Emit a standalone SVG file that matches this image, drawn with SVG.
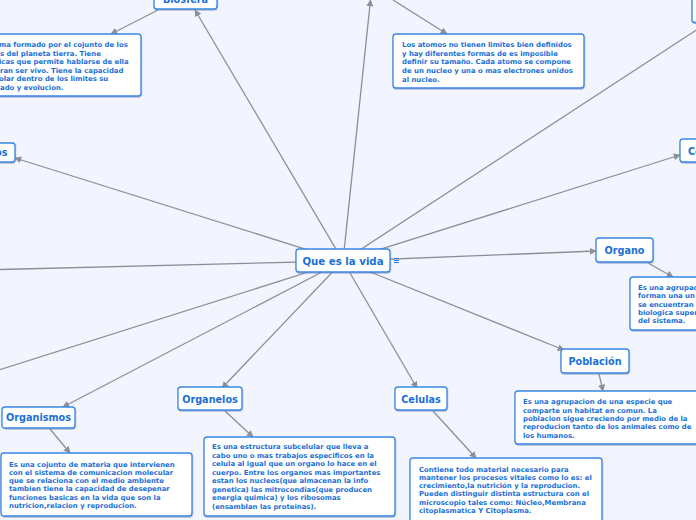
<svg xmlns="http://www.w3.org/2000/svg" width="696" height="520" viewBox="0 0 696 520">
<style>
.bg{fill:#f2f5fd}
.node rect{fill:#ffffff;stroke:#3a86e2;stroke-width:1.3;filter:url(#sh)}
.lbl{font-family:"DejaVu Sans",Verdana,sans-serif;font-weight:bold;font-size:9.7px;fill:#1b6fd6;text-anchor:middle}
.title{font-size:10.2px}
.desc{font-family:"DejaVu Sans",Verdana,sans-serif;font-weight:bold;font-size:6.9px;fill:#1b6fd6}
.conn line{stroke:#8b8f98;stroke-width:1.3;fill:none}
.arr{marker-end:url(#ah)}
</style>
<defs>
<filter id="sh" x="-10%" y="-10%" width="120%" height="130%">
<feDropShadow dx="0.4" dy="1" stdDeviation="0.6" flood-color="#6f86ad" flood-opacity="0.55"/>
</filter>
<marker id="ah" viewBox="0 0 10 10" refX="9" refY="5" markerWidth="7" markerHeight="7" markerUnits="userSpaceOnUse" orient="auto">
<path d="M0,0 L10,5 L0,10 z" fill="#8b8f98"/>
</marker>
</defs>
<rect class="bg" x="0" y="0" width="696" height="520"/>

<g id="connectors" class="conn">
<line class="arr" x1="343" y1="261" x2="195" y2="10"/>
<line class="arr" x1="343" y1="261" x2="370.5" y2="0"/>
<line x1="343" y1="261" x2="710" y2="21"/>
<line class="arr" x1="343" y1="261" x2="680" y2="155"/>
<line class="arr" x1="343" y1="261" x2="596" y2="251"/>
<line class="arr" x1="343" y1="261" x2="564" y2="350"/>
<line class="arr" x1="343" y1="261" x2="417" y2="388"/>
<line class="arr" x1="343" y1="261" x2="222" y2="388"/>
<line class="arr" x1="343" y1="261" x2="63" y2="407"/>
<line x1="343" y1="261" x2="-20" y2="376"/>
<line x1="343" y1="261" x2="-20" y2="270"/>
<line class="arr" x1="343" y1="261" x2="15" y2="158"/>
<line class="arr" x1="158" y1="10" x2="111" y2="34"/>
<line class="arr" x1="393" y1="0" x2="447" y2="34"/>
<line class="arr" x1="648" y1="263" x2="673" y2="277"/>
<line class="arr" x1="599" y1="374" x2="603" y2="391"/>
<line class="arr" x1="433" y1="411" x2="476" y2="458"/>
<line class="arr" x1="225" y1="411" x2="253" y2="437"/>
<line class="arr" x1="50" y1="429" x2="70" y2="453"/>
</g>

<g id="n-center" class="node">
<rect x="296" y="249" width="94" height="23" rx="3"/>
<text class="lbl title" x="343" y="265">Que es la vida</text>
<g stroke="#2b7be0" stroke-width="1">
<line x1="394" y1="258.5" x2="399" y2="258.5"/>
<line x1="394" y1="260.5" x2="399" y2="260.5"/>
<line x1="394" y1="262.5" x2="399" y2="262.5"/>
</g>
</g>

<g id="n-biosfera" class="node">
<rect x="154" y="-14" width="63" height="23" rx="3"/>
<text class="lbl" x="185.5" y="2.5">Biosfera</text>
</g>
<g id="d-biosfera" class="node">
<rect x="-10" y="34" width="151" height="62" rx="3"/>
<text class="desc">
<tspan x="-1" y="47">ma formado por el cojunto de los</tspan>
<tspan x="0" y="55.5">s del planeta tierra. Tiene</tspan>
<tspan x="-1" y="64">icas que permite hablarse de ella</tspan>
<tspan x="0" y="72.5">ran ser vivo. Tiene la capacidad</tspan>
<tspan x="-1" y="81">olar dentro de los limites su</tspan>
<tspan x="0" y="89.5">ado y evolucion.</tspan>
</text>
</g>

<g id="n-atomos" class="node">
<rect x="369" y="-25" width="60" height="24" rx="3"/>
</g>
<g id="d-atomos" class="node">
<rect x="393" y="34" width="191" height="54" rx="3"/>
<text class="desc">
<tspan x="402" y="47">Los atomos no tienen limites bien definidos</tspan>
<tspan x="402" y="55.7">y hay diferentes formas de es imposible</tspan>
<tspan x="402" y="64.3">definir su tamaño. Cada atomo se compone</tspan>
<tspan x="402" y="73">de un nucleo y una o mas electrones unidos</tspan>
<tspan x="402" y="81.5">al nucleo.</tspan>
</text>
</g>

<g id="n-topright" class="node">
<rect x="692" y="-2" width="60" height="24.5" rx="3"/>
</g>

<g id="n-co" class="node">
<rect x="680" y="139" width="40" height="23" rx="3"/>
<text class="lbl" x="688" y="154.5" style="text-anchor:start">Co</text>
</g>

<g id="n-os" class="node">
<rect x="-40" y="143" width="55" height="19" rx="3"/>
<text class="lbl" x="7.5" y="156" style="text-anchor:end">os</text>
</g>

<g id="n-organo" class="node">
<rect x="596" y="238" width="57" height="24" rx="3"/>
<text class="lbl" x="624.5" y="254">Organo</text>
</g>
<g id="d-organo" class="node">
<rect x="630" y="277" width="80" height="53" rx="3"/>
<text class="desc">
<tspan x="638" y="289.5">Es una agrupac</tspan>
<tspan x="638" y="298">forman una un</tspan>
<tspan x="638" y="306.5">se encuentran</tspan>
<tspan x="638" y="314.8">biologica super</tspan>
<tspan x="638" y="323.3">del sistema.</tspan>
</text>
</g>

<g id="n-poblacion" class="node">
<rect x="561" y="349" width="68" height="24" rx="3"/>
<text class="lbl" x="595" y="365">Población</text>
</g>
<g id="d-poblacion" class="node">
<rect x="515" y="391" width="190" height="53" rx="3"/>
<text class="desc">
<tspan x="523" y="404">Es una agrupacion de una especie que</tspan>
<tspan x="523" y="412.5">comparte un habitat en comun. La</tspan>
<tspan x="523" y="421">poblacion sigue creciendo por medio de la</tspan>
<tspan x="523" y="429.3">reproducion tanto de los animales como de</tspan>
<tspan x="523" y="437.7">los humanos.</tspan>
</text>
</g>

<g id="n-celulas" class="node">
<rect x="395" y="387" width="52" height="23" rx="3"/>
<text class="lbl" x="421" y="402.5">Celulas</text>
</g>
<g id="d-celulas" class="node">
<rect x="410" y="458" width="192" height="70" rx="3"/>
<text class="desc">
<tspan x="419" y="471.5">Contiene todo material necesario para</tspan>
<tspan x="419" y="479.5">mantener los procesos vitales como lo es: el</tspan>
<tspan x="419" y="488.2">crecimiento,la nutrición y la reproducion.</tspan>
<tspan x="419" y="496">Pueden distinguir distinta estructura con el</tspan>
<tspan x="419" y="504.8">microscopio tales como: Núcleo,Membrana</tspan>
<tspan x="419" y="513.3">citoplasmatica Y Citoplasma.</tspan>
</text>
</g>

<g id="n-organelos" class="node">
<rect x="178" y="387" width="64" height="23" rx="3"/>
<text class="lbl" x="210" y="402.5">Organelos</text>
</g>
<g id="d-organelos" class="node">
<rect x="204" y="437" width="191" height="79" rx="3"/>
<text class="desc">
<tspan x="212" y="448.5">Es una estructura subcelular que lleva a</tspan>
<tspan x="212" y="457.5">cabo uno o mas trabajos especificos en la</tspan>
<tspan x="212" y="465.8">celula al igual que un organo lo hace en el</tspan>
<tspan x="212" y="474.8">cuerpo. Entre los organos mas importantes</tspan>
<tspan x="212" y="482.5">estan los nucleos(que almacenan la info</tspan>
<tspan x="212" y="491.5">genetica) las mitrocondias(que producen</tspan>
<tspan x="212" y="499.8">energia quimica) y los ribosomas</tspan>
<tspan x="212" y="509">(ensamblan las proteinas).</tspan>
</text>
</g>

<g id="n-organismos" class="node">
<rect x="2" y="407" width="73" height="21" rx="3"/>
<text class="lbl" x="38.5" y="421">Organismos</text>
</g>
<g id="d-organismos" class="node">
<rect x="1" y="453" width="191" height="63" rx="3"/>
<text class="desc">
<tspan x="9" y="466.5">Es una cojunto de materia que intervienen</tspan>
<tspan x="9" y="474.5">con el sistema de comunicacion molecular</tspan>
<tspan x="9" y="482.7">que se relaciona con el medio ambiente</tspan>
<tspan x="9" y="491">tambien tiene la capacidad de desepenar</tspan>
<tspan x="9" y="499.8">funciones basicas en la vida que son la</tspan>
<tspan x="9" y="507.7">nutricion,relacion y reproducion.</tspan>
</text>
</g>
</svg>
